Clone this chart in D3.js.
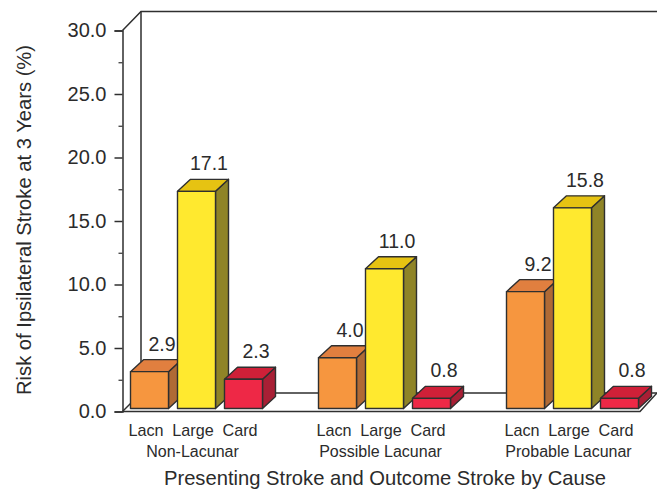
<!DOCTYPE html>
<html><head><meta charset="utf-8">
<script src="https://cdn.jsdelivr.net/npm/d3@7"></script>
<style>html,body{margin:0;padding:0;background:#fff}svg{display:block}text{font-family:"Liberation Sans",Arial,sans-serif;fill:#2b2b2b}</style>
</head><body><svg id="c" width="657" height="489"></svg>
<script>
const groups = ["Non-Lacunar","Possible Lacunar","Probable Lacunar"];
const causes = ["Lacn","Large","Card"];
const lacn = [2.9,4.0,9.2];
const large = [17.1,11.0,15.8];
const card = [2.3,0.8,0.8];
const majorTicks = [0,5,10,15,20,25,30];
const minorTicks = [2.5,7.5,12.5,17.5,22.5,27.5];
const seriesColors = {
  Lacn:{front:"#f6963f",top:"#e17f3f",side:"#b06a35"},
  Large:{front:"#ffe92f",top:"#e6c312",side:"#8f8427"},
  Card:{front:"#ee2846",top:"#cf2038",side:"#a81f35"}
};
const valuesOf = {Lacn:lacn,Large:large,Card:card};
const stroke="#2f2f2f";
const svg=d3.select("#c");
const y=d3.scaleLinear().domain([0,30]).range([411.5,30.5]);
const x0=d3.scaleBand().domain(groups).range([130.5,694.5]);
const x1=d3.scaleBand().domain(causes).range([0,141]);
const barW=38, dx=13, dy=12, baseLift=3;
const wallX=141, axisX=122.5, backY=393, topY=11.5, floorEnd=640, right=657;

const frame=svg.append("g").attr("fill","none").attr("stroke",stroke).attr("stroke-width",1.5);
frame.append("path").attr("d",`M${axisX},${y(30)}L${wallX},${topY}H${right}`);
frame.append("path").attr("d",`M${wallX},${topY}V${backY}H${right}`);
frame.append("path").attr("d",`M${axisX},${y(0)}L${wallX},${backY}`);
frame.append("path").attr("d",`M${axisX},${y(0)}H${floorEnd}L${right},${backY}`);

const fmt=d3.format(".1f");
const ax=svg.append("g").attr("transform",`translate(${axisX},0)`)
  .call(d3.axisLeft(y).tickValues(majorTicks).tickFormat(fmt).tickSize(8).tickPadding(8));
ax.select(".domain").attr("stroke",stroke).attr("stroke-width",1.5);
ax.selectAll("line").attr("stroke",stroke).attr("stroke-width",1.5);
ax.selectAll("text").attr("font-size",20).style("fill","#2b2b2b");
const ax2=svg.append("g").attr("transform",`translate(${axisX},0)`)
  .call(d3.axisLeft(y).tickValues(minorTicks).tickFormat("").tickSize(4));
ax2.select(".domain").remove();
ax2.selectAll("line").attr("stroke",stroke).attr("stroke-width",1.2);

const bars=[];
causes.forEach(c=>groups.forEach((g,i)=>bars.push({g,c,v:valuesOf[c][i]})));
bars.sort((a,b)=>groups.indexOf(a.g)-groups.indexOf(b.g)||causes.indexOf(a.c)-causes.indexOf(b.c));
const b=svg.append("g").attr("stroke",stroke).attr("stroke-width",1.4).attr("stroke-linejoin","round");
bars.forEach(d=>{
  const l=x0(d.g)+x1(d.c), r=l+barW, t=y(d.v)-baseLift, bt=y(0)-baseLift, col=seriesColors[d.c];
  b.append("path").attr("fill",col.side).attr("d",`M${r},${t}L${r+dx},${t-dy}V${bt-dy}L${r},${bt}Z`);
  b.append("path").attr("fill",col.top).attr("d",`M${l},${t}L${l+dx},${t-dy}H${r+dx}L${r},${t}Z`);
  b.append("rect").attr("fill",col.front).attr("x",l).attr("y",t).attr("width",barW).attr("height",bt-t);
  svg.append("text").attr("x",l+barW/2+12.5).attr("y",t-dy-9).attr("text-anchor","middle").attr("font-size",19.5).text(fmt(d.v));
});
groups.forEach(g=>{
  causes.forEach(c=>{
    svg.append("text").attr("x",x0(g)+x1(c)+barW/2-3.5).attr("y",436).attr("text-anchor","middle").attr("font-size",16.2).text(c);
  });
  svg.append("text").attr("x",x0(g)+62).attr("y",457).attr("text-anchor","middle").attr("font-size",16).text(g);
});
svg.append("text").attr("x",385).attr("y",485).attr("text-anchor","middle").attr("font-size",20.2).text("Presenting Stroke and Outcome Stroke by Cause");
svg.append("text").attr("transform","translate(31,220) rotate(-90)").attr("text-anchor","middle").attr("font-size",20.2).text("Risk of Ipsilateral Stroke at 3 Years (%)");
</script></body></html>
